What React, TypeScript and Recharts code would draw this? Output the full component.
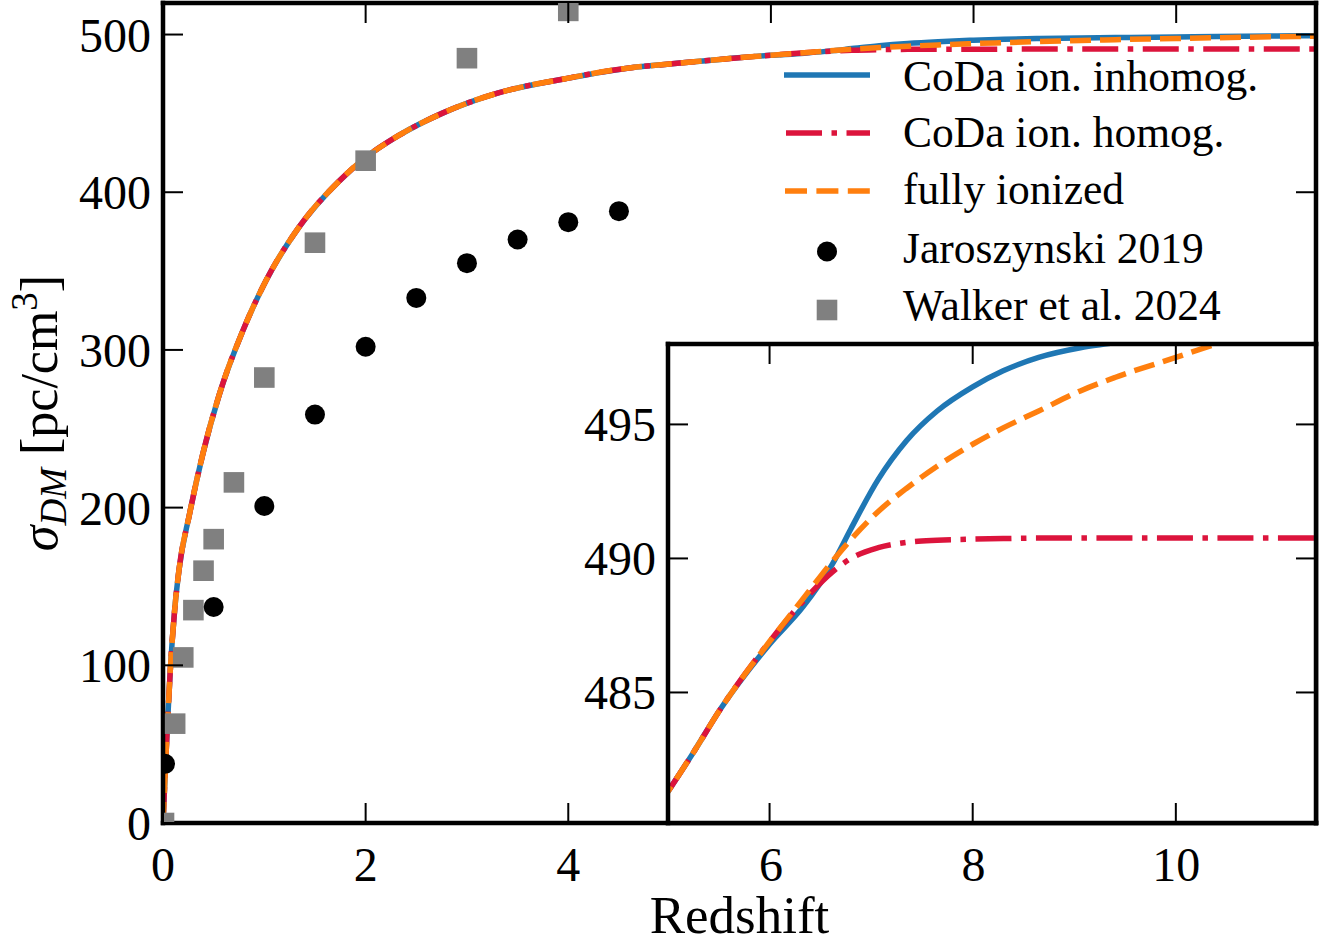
import React from "react";
import { ComposedChart, Line, Scatter, XAxis, YAxis, Legend } from "recharts";

const FONT = '"Liberation Serif", "DejaVu Serif", serif';

// model curves, sampled on one redshift grid
const REDSHIFT = [
  0, 0.015, 0.033, 0.05, 0.072, 0.115, 0.157, 0.262, 0.393, 0.557, 0.787,
  1.017, 1.344, 1.737, 2.0, 2.327, 2.753, 3.31, 3.97, 4.62, 5.0, 5.24, 5.52,
  6.0, 6.33, 6.62, 6.8, 7.07, 7.35, 7.65, 8.0, 8.3, 8.65, 9.06, 9.4, 10.0,
  10.4, 11.0, 11.38,
];
const SIGMA_INHOMOG = [
  0, 22, 48, 70, 97, 135, 160, 196, 234, 272, 312, 344, 378, 407, 422, 436,
  450, 463, 472, 479, 481.3, 482.7, 484.4, 486.8, 488.2, 489.8, 491.1, 492.95,
  494.4, 495.5, 496.4, 497.0, 497.5, 497.86, 498.05, 498.5, 498.8, 499.1, 499.3,
];
const SIGMA_HOMOG = [
  0, 22, 48, 70, 97, 135, 160, 196, 234, 272, 312, 344, 378, 407, 422, 436,
  450, 463, 472, 479, 481.3, 482.7, 484.4, 486.9, 488.4, 489.5, 490.0, 490.4,
  490.6, 490.68, 490.72, 490.74, 490.76, 490.76, 490.76, 490.76, 490.76,
  490.76, 490.76,
];
const SIGMA_FULLY = [
  0, 22, 48, 70, 97, 135, 160, 196, 234, 272, 312, 344, 378, 407, 422, 436,
  450, 463, 472, 479, 481.3, 482.7, 484.4, 486.9, 488.5, 489.9, 490.7, 491.75,
  492.62, 493.44, 494.26, 494.87, 495.5, 496.25, 496.75, 497.5, 498.0, 498.6,
  498.95,
];

// observational points
const JAROSZYNSKI_Z = [0.02, 0.5, 1, 1.5, 2, 2.5, 3, 3.5, 4, 4.5];
const JAROSZYNSKI_SIGMA = [37.5, 137, 201, 259, 302, 333, 355, 370, 381, 388];
const WALKER_Z = [0.01, 0.12, 0.2, 0.3, 0.4, 0.5, 0.7, 1, 1.5, 2, 3, 4];
const WALKER_SIGMA = [0, 63, 105, 135, 160, 180, 216, 282.5, 368, 420, 485, 515];

const MAIN_X_TICKS = [0, 2, 4, 6, 8, 10];
const MAIN_Y_TICKS = [0, 100, 200, 300, 400, 500];
const INSET_X_TICKS = [6, 8, 10];
const INSET_Y_TICKS = [485, 490, 495];

const LEGEND_LABELS = [
  "CoDa ion. inhomog.",
  "CoDa ion. homog.",
  "fully ionized",
  "Jaroszynski 2019",
  "Walker et al. 2024",
];

const BLUE = "#1f77b4";
const RED = "#dc143c";
const ORANGE = "#ff7f0e";
const GRAY = "#808080";

const inhomogData = REDSHIFT.map((z, i) => ({ z, sigma: SIGMA_INHOMOG[i] }));
const homogData = REDSHIFT.map((z, i) => ({ z, sigma: SIGMA_HOMOG[i] }));
const fullyData = REDSHIFT.map((z, i) => ({ z, sigma: SIGMA_FULLY[i] }));
const jaroData = JAROSZYNSKI_Z.map((z, i) => ({ z, sigma: JAROSZYNSKI_SIGMA[i] }));
const walkerData = WALKER_Z.map((z, i) => ({ z, sigma: WALKER_SIGMA[i] }));

const SPINE = { stroke: "#000", strokeWidth: 4.5, strokeLinecap: "square" as const };
const TICK_LEN = 20;

// inward ticks, drawn by the axis tick renderer
const bottomTick = (label: boolean) => (p: any) => (
  <g>
    <line x1={p.x} y1={p.y} x2={p.x} y2={p.y - TICK_LEN} stroke="#000" strokeWidth={2} />
    {label && (
      <text x={p.x} y={p.y + 58} textAnchor="middle" fontFamily={FONT} fontSize={48} fill="#000">
        {p.payload.value}
      </text>
    )}
  </g>
);
const topTick = (p: any) => (
  <line x1={p.x} y1={p.y} x2={p.x} y2={p.y + TICK_LEN} stroke="#000" strokeWidth={2} />
);
const leftTick = (p: any) => (
  <g>
    <line x1={p.x} y1={p.y} x2={p.x + TICK_LEN} y2={p.y} stroke="#000" strokeWidth={2} />
    <text x={p.x - 12} y={p.y + 17} textAnchor="end" fontFamily={FONT} fontSize={48} fill="#000">
      {p.payload.value}
    </text>
  </g>
);
const rightTick = (p: any) => (
  <line x1={p.x} y1={p.y} x2={p.x - TICK_LEN} y2={p.y} stroke="#000" strokeWidth={2} />
);

const Dot = (p: any) => <circle cx={p.cx} cy={p.cy} r={10} fill="#000" />;
const Square = (p: any) => (
  <rect x={p.cx - 10.3} y={p.cy - 10.3} width={20.6} height={20.6} fill={GRAY} />
);

function YLabel(props: any) {
  const vb = props.viewBox || { y: 3, height: 820 };
  const cx = 57;
  const cy = vb.y + vb.height / 2;
  return (
    <text
      transform={`rotate(-90, ${cx}, ${cy})`}
      x={cx}
      y={cy}
      textAnchor="middle"
      fontFamily={FONT}
      fontSize={52}
      fill="#000"
    >
      <tspan fontStyle="italic">σ</tspan>
      <tspan fontStyle="italic" fontSize={37} dy={9}>DM</tspan>
      <tspan dy={-9}> [pc/cm</tspan>
      <tspan fontSize={37} dy={-20}>3</tspan>
      <tspan dy={20}>]</tspan>
    </text>
  );
}

function LegendBox() {
  const rows = [35, 93, 151, 211.5, 270];
  const baselines = [50.5, 107, 164, 223, 280];
  return (
    <svg width={540} height={300} style={{ overflow: "visible", display: "block" }}>
      <line x1={14} x2={100} y1={rows[0]} y2={rows[0]} stroke={BLUE} strokeWidth={5.5} />
      <line x1={16} x2={100} y1={rows[1]} y2={rows[1]} stroke={RED} strokeWidth={5.5} strokeDasharray="36 9.5 5.5 9.5" />
      <line x1={15} x2={100} y1={rows[2]} y2={rows[2]} stroke={ORANGE} strokeWidth={5.5} strokeDasharray="22 9.4" />
      <circle cx={57} cy={rows[3]} r={10} fill="#000" />
      <rect x={46.7} y={rows[4] - 10.3} width={20.6} height={20.6} fill={GRAY} />
      {LEGEND_LABELS.map((t, i) => (
        <text key={t} x={133} y={baselines[i]} fontFamily={FONT} fontSize={43.5} fill="#000">
          {t}
        </text>
      ))}
    </svg>
  );
}

export default function App() {
  return (
    <div style={{ position: "absolute", left: 0, top: 0, width: 1330, height: 947, background: "#fff" }}>
      <div style={{ position: "absolute", left: 0, top: 0 }}>
        <ComposedChart width={1330} height={947} margin={{ top: 2, right: 13, bottom: 0, left: 0 }}>
          <XAxis
            type="number"
            dataKey="z"
            domain={[0, 11.38]}
            ticks={MAIN_X_TICKS}
            interval={0}
            height={124}
            tickSize={0}
            tickMargin={0}
            tickLine={false}
            axisLine={SPINE}
            tick={bottomTick(true)}
            allowDataOverflow
            label={{ value: "Redshift", position: "insideBottom", offset: 14, fontSize: 53, fontFamily: FONT, fill: "#000" }}
          />
          <XAxis
            xAxisId="top"
            orientation="top"
            type="number"
            dataKey="z"
            domain={[0, 11.38]}
            ticks={MAIN_X_TICKS}
            interval={0}
            height={1}
            tickSize={0}
            tickMargin={0}
            tickLine={false}
            axisLine={SPINE}
            tick={topTick}
            allowDataOverflow
          />
          <YAxis
            type="number"
            dataKey="sigma"
            domain={[0, 520]}
            ticks={MAIN_Y_TICKS}
            interval={0}
            width={163}
            tickSize={0}
            tickMargin={0}
            tickLine={false}
            axisLine={SPINE}
            tick={leftTick}
            allowDataOverflow
            label={<YLabel />}
          />
          <YAxis
            yAxisId="right"
            orientation="right"
            type="number"
            dataKey="sigma"
            domain={[0, 520]}
            ticks={MAIN_Y_TICKS}
            interval={0}
            width={1}
            tickSize={0}
            tickMargin={0}
            tickLine={false}
            axisLine={SPINE}
            tick={rightTick}
            allowDataOverflow
          />
          <Scatter data={walkerData} dataKey="sigma" xAxisId="top" yAxisId="right" shape={Square} isAnimationActive={false} />
          <Scatter data={jaroData} dataKey="sigma" shape={Dot} isAnimationActive={false} />
          <Line data={inhomogData} dataKey="sigma" type="monotone" stroke={BLUE} strokeWidth={5.5} dot={false} activeDot={false} isAnimationActive={false} />
          <Line data={homogData} dataKey="sigma" type="monotone" stroke={RED} strokeWidth={5.5} strokeDasharray="36 9.5 5.5 9.5" dot={false} activeDot={false} isAnimationActive={false} />
          <Line data={fullyData} dataKey="sigma" type="monotone" stroke={ORANGE} strokeWidth={5.5} strokeDasharray="21 9" dot={false} activeDot={false} isAnimationActive={false} />
          <Legend
            content={<LegendBox />}
            layout="vertical"
            align="center"
            verticalAlign="middle"
            wrapperStyle={{ left: 770, top: 40, width: 540, height: 300 }}
          />
        </ComposedChart>
      </div>

      {/* white backing of the inset axes */}
      <div style={{ position: "absolute", left: 668, top: 344, width: 648, height: 479, background: "#fff" }} />

      <div style={{ position: "absolute", left: 560, top: 330 }}>
        <ComposedChart width={770} height={617} margin={{ top: 13, right: 13, bottom: 0, left: 0 }}>
          <XAxis
            type="number"
            dataKey="z"
            domain={[5, 11.38]}
            ticks={INSET_X_TICKS}
            interval={0}
            height={124}
            tickSize={0}
            tickMargin={0}
            tickLine={false}
            axisLine={SPINE}
            tick={bottomTick(false)}
            allowDataOverflow
          />
          <XAxis
            xAxisId="top"
            orientation="top"
            type="number"
            dataKey="z"
            domain={[5, 11.38]}
            ticks={INSET_X_TICKS}
            interval={0}
            height={1}
            tickSize={0}
            tickMargin={0}
            tickLine={false}
            axisLine={SPINE}
            tick={topTick}
            allowDataOverflow
          />
          <YAxis
            type="number"
            dataKey="sigma"
            domain={[480.13, 498.0]}
            ticks={INSET_Y_TICKS}
            interval={0}
            width={108}
            tickSize={0}
            tickMargin={0}
            tickLine={false}
            axisLine={SPINE}
            tick={leftTick}
            allowDataOverflow
          />
          <YAxis
            yAxisId="right"
            orientation="right"
            type="number"
            dataKey="sigma"
            domain={[480.13, 498.0]}
            ticks={INSET_Y_TICKS}
            interval={0}
            width={1}
            tickSize={0}
            tickMargin={0}
            tickLine={false}
            axisLine={SPINE}
            tick={rightTick}
            allowDataOverflow
          />
          <Line data={inhomogData} dataKey="sigma" type="monotone" stroke={BLUE} strokeWidth={5.5} dot={false} activeDot={false} isAnimationActive={false} />
          <Line data={homogData} dataKey="sigma" type="monotone" stroke={RED} strokeWidth={5.5} strokeDasharray="36 9.5 5.5 9.5" dot={false} activeDot={false} isAnimationActive={false} />
          <Line data={fullyData} dataKey="sigma" xAxisId="top" yAxisId="right" type="monotone" stroke={ORANGE} strokeWidth={5.5} strokeDasharray="21 9" dot={false} activeDot={false} isAnimationActive={false} />
        </ComposedChart>
      </div>
    </div>
  );
}
